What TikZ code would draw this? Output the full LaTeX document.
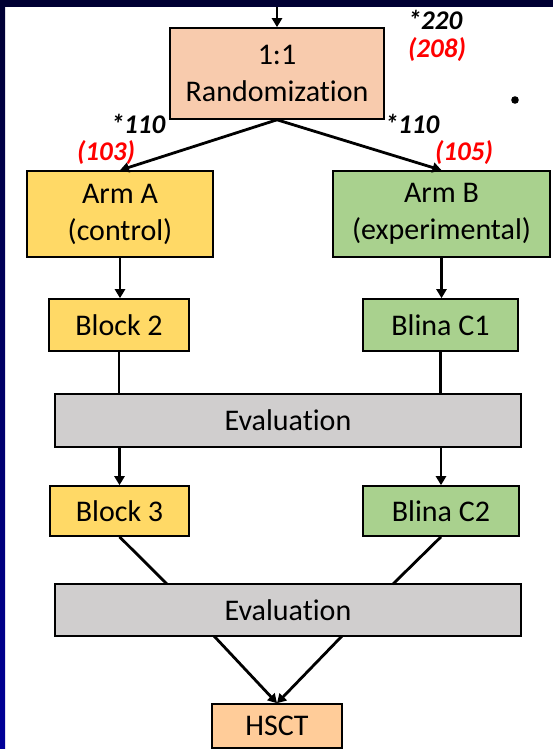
\documentclass[tikz,border=0pt]{standalone}
\usepackage{fontspec}
\setmainfont{Carlito}[Ligatures=NoCommon]
\usetikzlibrary{arrows.meta,calc}
\definecolor{peach}{HTML}{F8CBAD}
\definecolor{armyel}{HTML}{FFD966}
\definecolor{armgrn}{HTML}{A9D18E}
\definecolor{evgrey}{HTML}{D0CECE}
\definecolor{hsctor}{HTML}{FFCC99}
\definecolor{navytop}{HTML}{000033}
\definecolor{navybot}{HTML}{000099}
\definecolor{numred}{HTML}{FF0000}
\tikzset{
  box/.style={draw=black, line width=1.6pt, rectangle, inner sep=0pt, align=center,
    font=\fontsize{30}{37}\selectfont},
  arr/.style={line width=2.8pt, -{Triangle[length=9pt,width=10pt]}},
  ln/.style={line width=2.8pt},
  numblk/.style={font=\fontsize{27}{29}\selectfont\bfseries\itshape, text=black, inner sep=0pt},
  numred/.style={font=\fontsize{27}{29}\selectfont\bfseries\itshape, text=numred, inner sep=0pt}
}
\begin{document}
\begin{tikzpicture}[x=1pt,y=-1pt]
\useasboundingbox (0,0) rectangle (553,749);
\fill[white] (0,0) rectangle (553,749);
% nodes
\node[box, fill=peach, minimum width=214pt, minimum height=91pt] (rand) at (277,73.5) {1:1\\Randomization};
\node[box, fill=armyel, minimum width=186pt, minimum height=86pt] (armA) at (120,214) {Arm A\\(control)};
\node[box, fill=armgrn, minimum width=217pt, minimum height=86pt] (armB) at (441.5,214) {Arm B\\(experimental)};
\node[box, fill=armyel, minimum width=140pt, minimum height=52pt] (blk2) at (119,325) {Block 2};
\node[box, fill=armgrn, minimum width=155pt, minimum height=52pt] (blc1) at (440.5,325) {Blina C1};
\node[box, fill=evgrey, minimum width=466pt, minimum height=53pt] (ev1) at (288,420.5) {Evaluation};
\node[box, fill=armyel, minimum width=139pt, minimum height=50pt] (blk3) at (119.5,511) {Block 3};
\node[box, fill=armgrn, minimum width=156pt, minimum height=50pt] (blc2) at (441,511) {Blina C2};
\node[box, fill=evgrey, minimum width=466pt, minimum height=52pt] (ev2) at (288,610) {Evaluation};
\node[box, fill=hsctor, minimum width=130pt, minimum height=44pt] (hsct) at (277,726) {HSCT};
% labels
\node[numblk] (n220) at (435,20) {*220};
\node[numred] (n208) at (437,50) {(208)};
\node[numblk] (n110a) at (138,124) {*110};
\node[numred] (n103) at (106,153) {(103)};
\node[numblk] (n110b) at (412,124) {*110};
\node[numred] (n105) at (464,153) {(105)};
\fill[black] (515,100) circle (3.8pt);
% coordinates
\coordinate (topin) at (277,0);
\coordinate (e2l) at (167,584);
\coordinate (e2r) at (393,584);
\coordinate (e2a) at (214,636);
\coordinate (e2b) at (342,636);
% connectors
\draw[arr] (topin) -- (rand.north);
\draw[arr] (rand.south) -- (armA.north);
\draw[arr] (rand.south) -- (armB.north);
\draw[arr] (armA.south) -- (armA.south |- blk2.north);
\draw[arr] (armB.south) -- (armB.south |- blc1.north);
\draw[ln] (blk2.south) -- (blk2.south |- ev1.north);
\draw[ln] (blc1.south) -- (blc1.south |- ev1.north);
\draw[arr] (blk3.north |- ev1.south) -- (blk3.north);
\draw[arr] (blc2.north |- ev1.south) -- (blc2.north);
\draw[ln] (blk3.south) -- (e2l);
\draw[ln] (blc2.south) -- (e2r);
\draw[arr] (e2a) -- (hsct.north);
\draw[arr] (e2b) -- (hsct.north);
% frame strips
\shade[top color=navytop, bottom color=navybot] (0,0) rectangle (5,749);
\fill[navytop] (0,0) rectangle (553,7);
\end{tikzpicture}
\end{document}
